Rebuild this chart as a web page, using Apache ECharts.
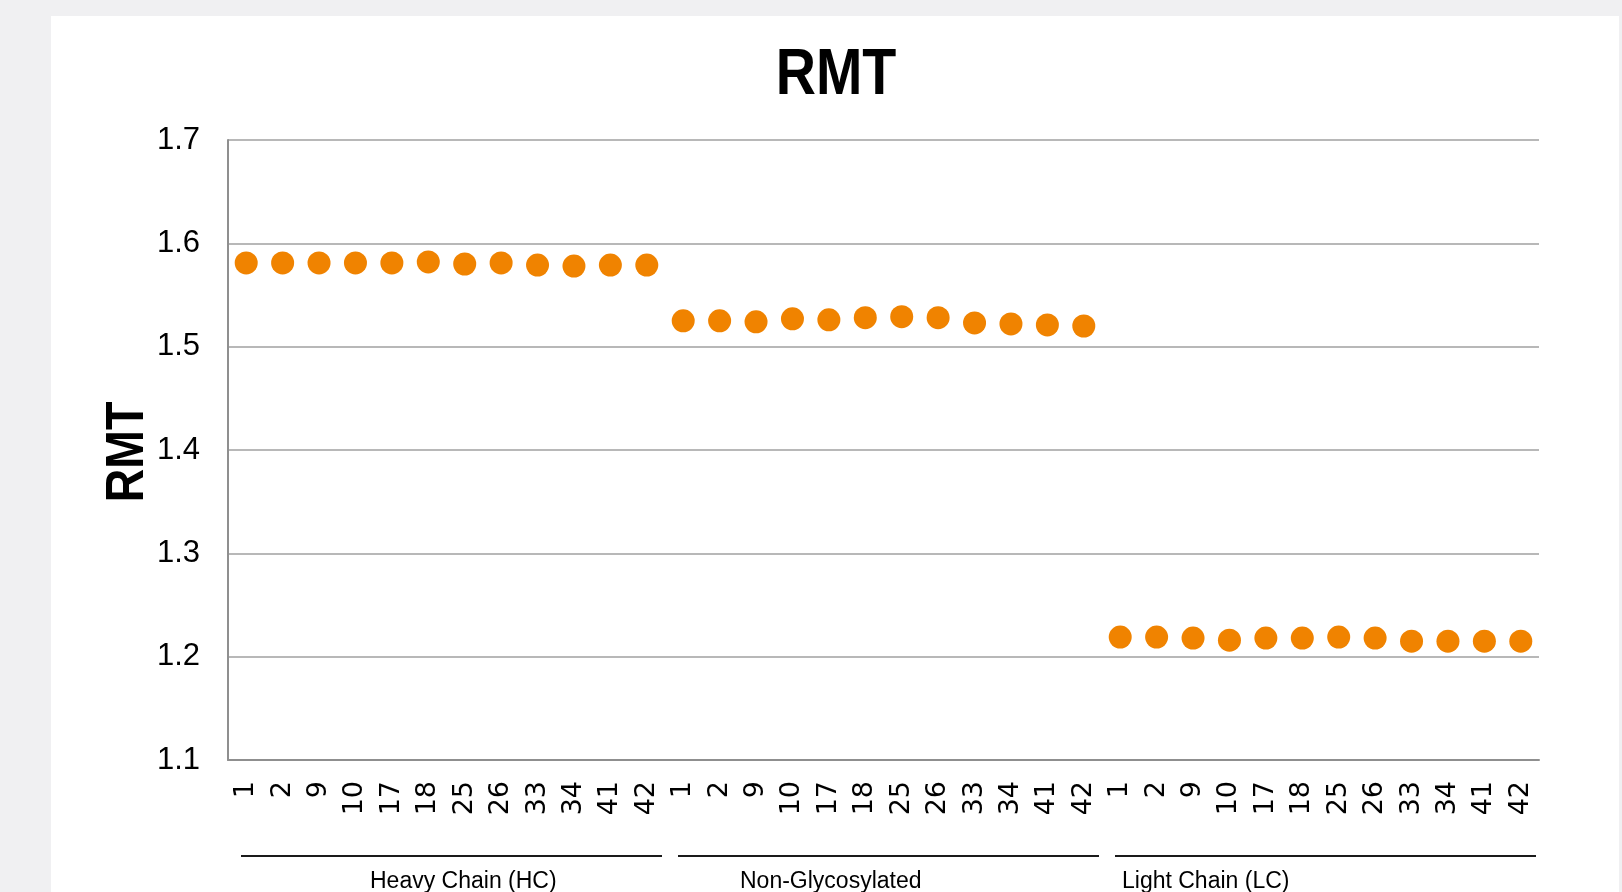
<!DOCTYPE html>
<html>
<head>
<meta charset="utf-8">
<title>RMT</title>
<script src="https://cdn.jsdelivr.net/npm/echarts@6/dist/echarts.min.js"></script>
<style>
  html, body { margin: 0; padding: 0; width: 1622px; height: 892px; overflow: hidden; background: #f0f0f2; }
  #card { position: absolute; left: 51px; top: 16px; width: 1568px; height: 876px; background: #ffffff; }
</style>
</head>
<body>
<div id="card"></div>
<script>
// Sample identifiers repeated under each chain group
const sampleIds = ['1', '2', '9', '10', '17', '18', '25', '26', '33', '34', '41', '42'];
const groupNames = ['Heavy Chain (HC)', 'Non-Glycosylated', 'Light Chain (LC)'];

// Relative migration time per sample
const hcRmt = [1.581, 1.581, 1.581, 1.581, 1.581, 1.582, 1.580, 1.581, 1.579, 1.578, 1.579, 1.579];
const ngRmt = [1.525, 1.525, 1.524, 1.527, 1.526, 1.528, 1.529, 1.528, 1.523, 1.522, 1.521, 1.520];
const lcRmt = [1.219, 1.219, 1.218, 1.216, 1.218, 1.218, 1.219, 1.218, 1.215, 1.215, 1.215, 1.215];

const yTicks = { min: 1.1, max: 1.7, step: 0.1 };
const chartTitle = 'RMT';
const yAxisTitle = 'RMT';

// ---- build
const groupValues = [hcRmt, ngRmt, lcRmt];
const categories = [];
const points = [];
const groupSpans = [];
groupValues.forEach(function (vals, g) {
  const start = categories.length;
  vals.forEach(function (v, i) {
    points.push([categories.length, v]);
    categories.push(sampleIds[i]);
  });
  groupSpans.push([start, yTicks.min, categories.length - 1, g]);
});

// horizontal placement of each group caption inside its band (px from band start)
const captionInset = [142, 75, 20];

const sans = "'Liberation Sans', Arial, sans-serif";

const gridBox = { left: 177, right: 80, top: 124, bottom: 132 };
const cardW = 1568, cardH = 876;

const chart = echarts.init(document.getElementById('card'), null, { renderer: 'canvas' });

chart.setOption({
  animation: false,
  backgroundColor: '#ffffff',
  // condensed bold headings: chart title and vertical axis title
  graphic: [
    {
      type: 'text',
      x: 785,
      y: 60,
      scaleX: 0.87,
      style: {
        text: chartTitle,
        fontSize: 64,
        fontWeight: 'bold',
        fontFamily: sans,
        fill: '#000000',
        align: 'center',
        verticalAlign: 'middle'
      }
    },
    {
      type: 'text',
      x: 77,
      y: gridBox.top + (cardH - gridBox.top - gridBox.bottom) / 2 + 2,
      rotation: Math.PI / 2,
      scaleX: 0.86,
      style: {
        text: yAxisTitle,
        fontSize: 54,
        fontWeight: 'bold',
        fontFamily: sans,
        fill: '#000000',
        align: 'center',
        verticalAlign: 'middle'
      }
    }
  ],
  grid: { left: gridBox.left, right: gridBox.right, top: gridBox.top, bottom: gridBox.bottom, containLabel: false },
  xAxis: {
    type: 'category',
    data: categories,
    boundaryGap: true,
    axisLine: { show: true, lineStyle: { color: '#8f8f8f', width: 2 } },
    axisTick: { show: false },
    axisLabel: {
      interval: 0,
      rotate: 90,
      margin: 21,
      fontSize: 27,
      fontFamily: "'DejaVu Sans', sans-serif",
      color: '#000000'
    },
    splitLine: { show: false }
  },
  yAxis: {
    type: 'value',
    min: yTicks.min,
    max: yTicks.max,
    interval: yTicks.step,
    axisLine: { show: true, lineStyle: { color: '#8f8f8f', width: 2 } },
    axisTick: { show: false },
    axisLabel: {
      margin: 28,
      fontSize: 31,
      fontFamily: sans,
      color: '#000000',
      formatter: function (v) { return v.toFixed(1); }
    },
    splitLine: { show: true, lineStyle: { color: '#a0a0a0', width: 1.5 } }
  },
  series: [
    {
      name: 'RMT',
      type: 'scatter',
      data: points,
      symbol: 'circle',
      symbolSize: 23,
      itemStyle: { color: '#f08300', opacity: 1 },
      z: 3
    },
    {
      // group brackets and captions below the sample labels
      type: 'custom',
      data: groupSpans,
      encode: { x: 0, y: 1 },
      clip: false,
      silent: true,
      renderItem: function (params, api) {
        const startIdx = api.value(0);
        const endIdx = api.value(2);
        const g = api.value(3);
        const band = api.size([1, 0])[0];
        const p0 = api.coord([startIdx, api.value(1)]);
        const p1 = api.coord([endIdx, api.value(1)]);
        const bandStart = p0[0] - band / 2;
        const bandEnd = p1[0] + band / 2;
        const lineY = p0[1] + 96;
        return {
          type: 'group',
          children: [
            {
              type: 'line',
              shape: { x1: bandStart + 13, y1: lineY, x2: bandEnd - 3, y2: lineY },
              style: { stroke: '#1a1a1a', lineWidth: 2 }
            },
            {
              type: 'text',
              x: bandStart + captionInset[g],
              y: lineY + 14,
              style: {
                text: groupNames[g],
                fill: '#000000',
                fontSize: 23,
                fontFamily: sans,
                align: 'left',
                verticalAlign: 'top'
              }
            }
          ]
        };
      },
      z: 2
    }
  ]
});
</script>
</body>
</html>
